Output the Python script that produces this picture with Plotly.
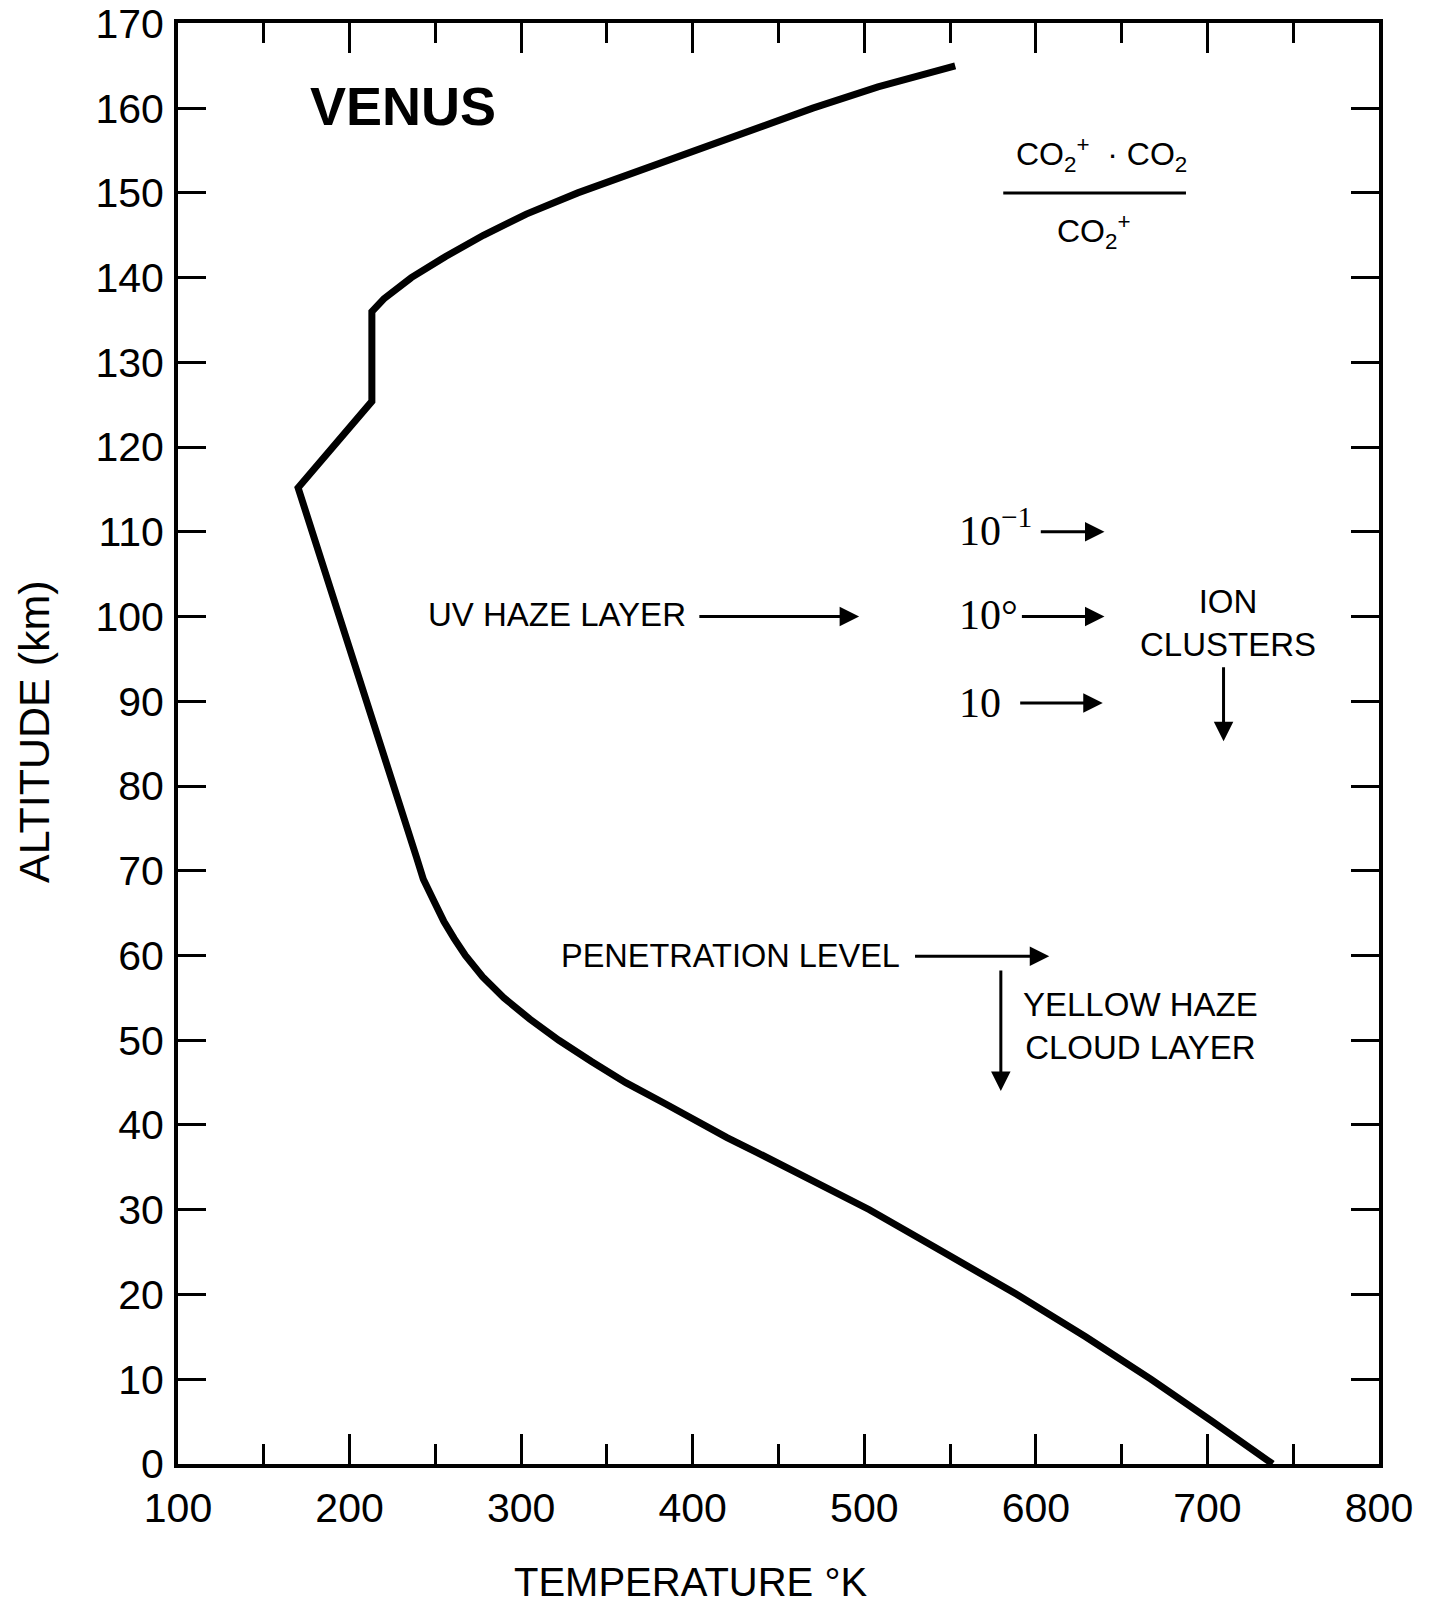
import plotly.graph_objects as go

# Temperature profile of Venus
temperature_k = [553, 508, 470, 436, 400, 366, 333, 303, 278, 256, 236, 220, 213,
                 213, 170, 239, 243, 249, 255, 261, 267.5, 277.5, 290, 305, 322, 341, 361,
                 384, 406, 420, 437, 470, 503, 546, 589, 629, 667, 703, 738]
altitude_km = [165, 162.5, 160, 157.5, 155, 152.5, 150, 147.5, 145, 142.5, 140, 137.5, 136,
               125.4, 115.2, 71.6, 69, 66.5, 64, 62, 60, 57.5, 55, 52.5, 50, 47.5, 45,
               42.5, 40, 38.5, 36.8, 33.5, 30, 25, 20, 15, 10, 5, 0]

x_ticks = [100, 200, 300, 400, 500, 600, 700, 800]
y_ticks = list(range(0, 171, 10))

BLACK = "#000000"
SANS = "Liberation Sans, Arial, sans-serif"
SERIF = "Liberation Serif, Times New Roman, serif"

fig = go.Figure()
fig.add_trace(go.Scatter(
    x=temperature_k, y=altitude_km, mode="lines",
    line=dict(color=BLACK, width=7, shape="linear"),
    hoverinfo="skip", showlegend=False,
))

ann = []

def text(x, y, t, size=33, xanchor="center", yanchor="middle", family=SANS):
    ann.append(dict(x=x, y=y, xref="x", yref="y", text=t, showarrow=False,
                    xanchor=xanchor, yanchor=yanchor,
                    font=dict(family=family, size=size, color=BLACK)))

def arrow(x0, y0, x1, y1):
    ann.append(dict(x=x1, y=y1, ax=x0, ay=y0, xref="x", yref="y",
                    axref="x", ayref="y", text="", showarrow=True,
                    arrowhead=2, arrowsize=1.3, arrowwidth=3,
                    arrowcolor=BLACK, standoff=0, startstandoff=0))

# Title
text(176, 160.3, "<b>VENUS</b>", size=54, xanchor="left")

# Fraction label
text(638, 154.55, "CO<sub>2</sub><sup>+</sup>  · CO<sub>2</sub>", size=32)
text(634, 145.5, "CO<sub>2</sub><sup>+</sup>", size=32)

# Labels and arrows
text(397, 100.2, "UV HAZE LAYER", xanchor="right")
arrow(403, 100, 497, 100)

text(554, 110.5, "10<sup>\u22121</sup>", size=42, xanchor="left", family=SERIF)
arrow(602, 110, 640, 110)
text(554, 100.2, "10\u00b0", size=42, xanchor="left", family=SERIF)
arrow(591, 100, 640, 100)
text(554, 89.8, "10", size=42, xanchor="left", family=SERIF)
arrow(590, 89.8, 639, 89.8)

text(712, 99.2, "ION<br>CLUSTERS")
arrow(709.4, 94.2, 709.4, 85.3)

text(522, 59.9, "PENETRATION LEVEL", size=32.5, xanchor="right")
arrow(528.7, 59.9, 607.8, 59.9)

text(591.5, 51.7, "YELLOW HAZE<br>CLOUD LAYER", xanchor="left")
arrow(579.6, 58.4, 579.6, 44.0)

# Axis titles as paper annotations
ann.append(dict(x=-0.1199, y=0.508, xref="paper", yref="paper", text="ALTITUDE (km)",
                showarrow=False, textangle=-90, xanchor="center", yanchor="middle",
                font=dict(family=SANS, size=43, color=BLACK)))
ann.append(dict(x=0.427, y=-0.0819, xref="paper", yref="paper", text="TEMPERATURE \u00b0K",
                showarrow=False, xanchor="center", yanchor="middle",
                font=dict(family=SANS, size=40, color=BLACK)))

# Fraction bar
fig.add_shape(type="line", x0=581, x1=687.5, y0=150.0, y1=150.0, xref="x", yref="y",
              line=dict(color=BLACK, width=3))

axis_common = dict(
    showline=True, linecolor=BLACK, linewidth=4, mirror="ticks",
    ticks="inside", tickcolor=BLACK, tickwidth=3,
    showgrid=False, zeroline=False, ticklabeloverflow="allow", automargin=False,
    tickfont=dict(family=SANS, size=41, color=BLACK),
)

fig.update_xaxes(range=[100, 800.01], tickvals=x_ticks, ticklen=30,
                 minor=dict(dtick=50, ticks="inside", ticklen=20, tickwidth=3,
                            tickcolor=BLACK, showgrid=False),
                 ticklabelstandoff=5, **axis_common)
fig.update_yaxes(range=[-0.01, 170.05], tickvals=y_ticks, ticklen=28,
                 ticklabelstandoff=2, **axis_common)

fig.update_layout(
    width=1429, height=1610,
    margin=dict(l=178, r=50, t=23, b=146, autoexpand=False),
    paper_bgcolor="white", plot_bgcolor="white",
    annotations=ann, showlegend=False,
)

# Remove the default page margin so the figure fills the window exactly.
fig.write_html("out.html", config={"displayModeBar": False},
               post_script="document.body.style.margin='0';")
